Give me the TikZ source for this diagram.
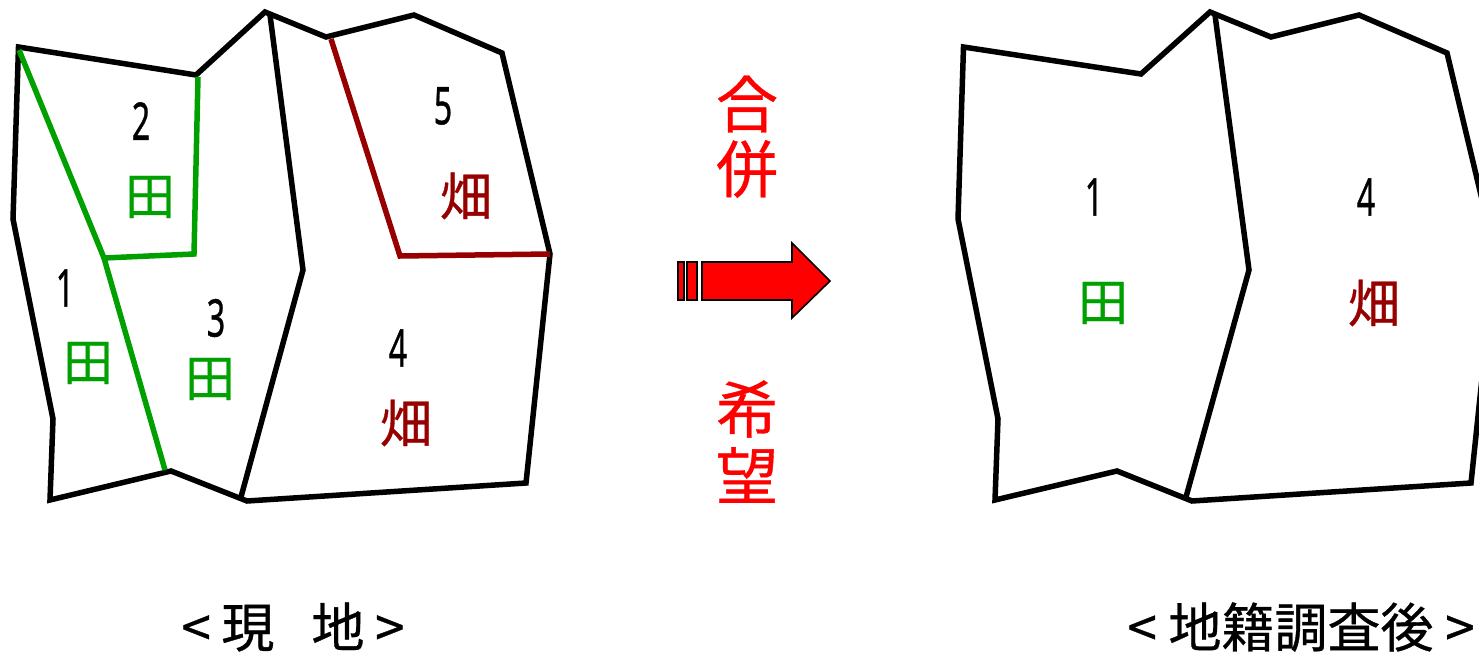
\documentclass[tikz,border=0pt]{standalone}
\usepackage{fontspec}
\setmainfont[FakeBold=0.6]{Noto Sans CJK JP}
\newfontfamily\numfont[FakeBold=0.8]{Noto Sans}
\definecolor{tgreen}{RGB}{0,160,0}
\definecolor{tred}{RGB}{150,0,0}
\newcommand{\numlab}[1]{\scalebox{0.62}[1]{\fontsize{52}{52}\selectfont\numfont #1}}
\tikzset{
  x=1pt,y=-1pt,
  every node/.style={inner sep=0pt,outer sep=0pt,anchor=center},
  parcel/.style={draw=black,line width=5.5pt,line join=miter},
  gline/.style={draw=tgreen,line width=5.5pt},
  rline/.style={draw=tred,line width=5.5pt},
  numtext/.style={text=black},
  gtext/.style={text=tgreen,font=\fontsize{50}{50}\selectfont},
  rtext/.style={text=tred,font=\fontsize{52}{52}\selectfont},
  bigred/.style={text=red,font=\fontsize{62}{62}\selectfont},
  captext/.style={text=black,font=\fontsize{53}{53}\selectfont},
  arrowpart/.style={draw=black,fill=red,line width=1.6pt}
}
\begin{document}
\begin{tikzpicture}
\useasboundingbox (0,0) rectangle (1479,652);
\clip (0,0) rectangle (1479,652);
% left parcel
\draw[parcel] (18.5,47) -- (196,75) -- (265,12) -- (326,37) -- (414,15) -- (502,53) -- (550,254) -- (526,483) -- (247,501) -- (171,471) -- (50,500) -- (53,419) -- (13,219) -- cycle;
\draw[parcel] (270,15) -- (303,270) -- (241,497);
\draw[gline] (19,50) -- (104,258) -- (165,470);
\draw[gline] (104,258) -- (194,254) -- (198,77);
\draw[rline] (331,39) -- (400,256) -- (550,254);
% right parcel
\draw[parcel] (963.5,47) -- (1141,74) -- (1210,12) -- (1271,37) -- (1359,15) -- (1447,53) -- (1495,254) -- (1471,483) -- (1192,501) -- (1117,471) -- (995,500) -- (998,419) -- (958,219) -- cycle;
\draw[parcel] (1215,15) -- (1249,270) -- (1186,497);
% arrow
\draw[arrowpart] (702,262) -- (792,262) -- (792,243) -- (830,281) -- (792,318) -- (792,300) -- (702,300) -- cycle;
\draw[arrowpart] (678,262) rectangle (684,300);
\draw[arrowpart] (687,262) rectangle (697,300);
% labels
\node[numtext] (n1) at (65,288) {\numlab{1}};
\node[numtext] (n2) at (141,121) {\numlab{2}};
\node[numtext] (n3) at (216,318) {\numlab{3}};
\node[numtext] (n4) at (398,348) {\numlab{4}};
\node[numtext] (n5) at (443,106) {\numlab{5}};
\node[gtext] (t1) at (88,363) {田};
\node[gtext] (t2) at (150,197) {田};
\node[gtext] (t3) at (210,379) {田};
\node[rtext] (t4) at (406,423) {畑};
\node[rtext] (t5) at (466,196) {畑};
\node[numtext] (m1) at (1094,197) {\numlab{1}};
\node[numtext] (m4) at (1366,197) {\numlab{4}};
\node[gtext] (u1) at (1103,303) {田};
\node[rtext] (u4) at (1374,303) {畑};
\node[bigred] (a1) at (747,104) {合};
\node[bigred] (a2) at (747,169) {併};
\node[bigred] (a3) at (747,409) {希};
\node[bigred] (a4) at (747,475) {望};
\node[captext] (c1) at (293,627) {<\hspace{0.2em}現\hspace{0.7em}地\hspace{0.2em}>};
\node[captext] (c2) at (1301,627) {<\hspace{0.22em}地籍調査後\hspace{0.22em}>};
\end{tikzpicture}
\end{document}
